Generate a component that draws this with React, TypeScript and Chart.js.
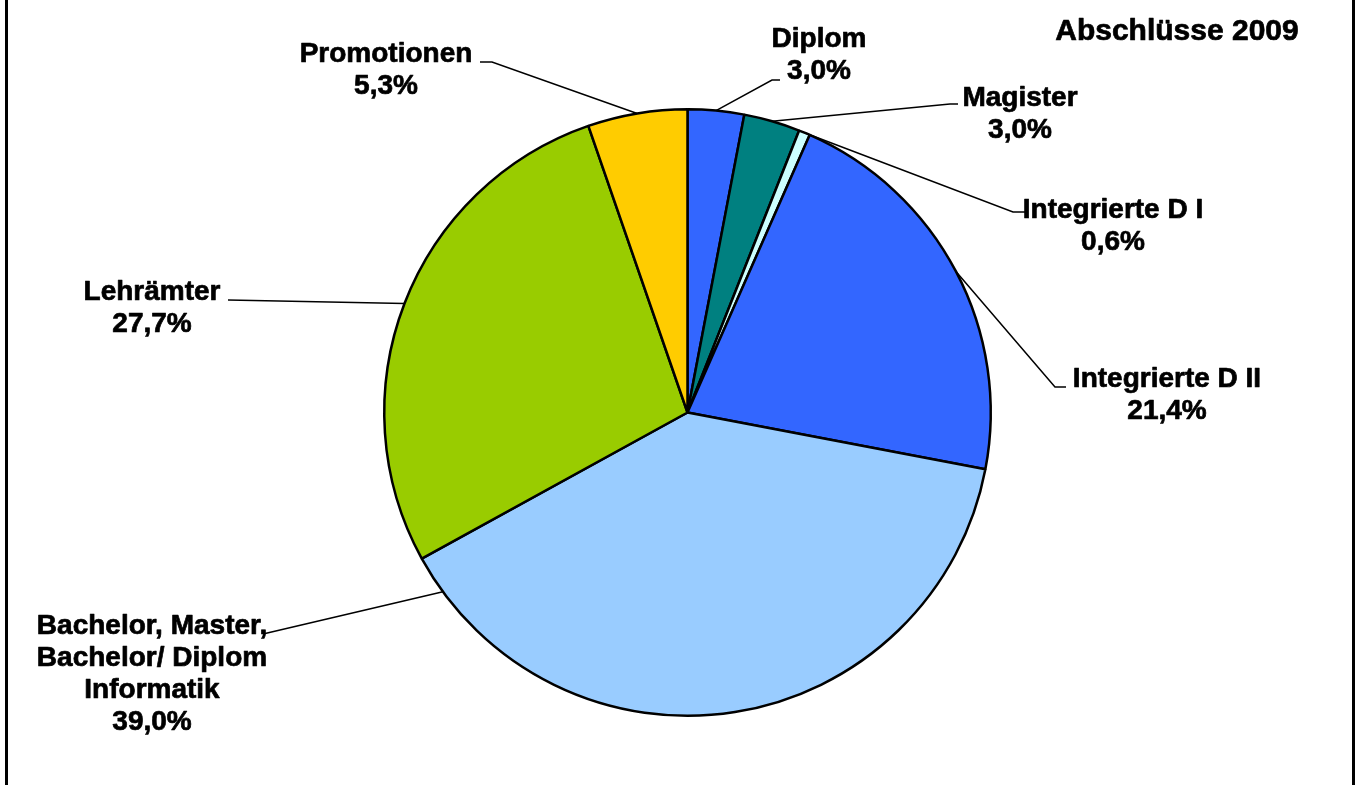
import React, { useEffect, useRef } from "react";
import { Chart, registerables } from "chart.js";

Chart.register(...registerables);

// ---- data ----
const categories = [
  "Diplom",
  "Magister",
  "Integrierte D I",
  "Integrierte D II",
  "Bachelor, Master, Bachelor/ Diplom Informatik",
  "Lehrämter",
  "Promotionen",
];
const shares = [3.0, 3.0, 0.6, 21.4, 39.0, 27.7, 5.3];
const labelLines = [
  ["Diplom"],
  ["Magister"],
  ["Integrierte D I"],
  ["Integrierte D II"],
  ["Bachelor, Master,", "Bachelor/ Diplom", "Informatik"],
  ["Lehrämter"],
  ["Promotionen"],
];
const title = "Abschlüsse 2009";

// ---- styles / layout ----
const colors = ["#3366FF", "#008080", "#CCFFFF", "#3366FF", "#99CCFF", "#99CC00", "#FFCC00"];
const FONT = "bold 28px Arial, 'Liberation Sans', sans-serif";
const TITLE_FONT = "bold 30px Arial, 'Liberation Sans', sans-serif";

// label layout: text centre x, first baseline, leader anchor fraction, leader path
const labelLayout = [
  { cx: 819, y0: 47, frac: 0.5, path: [[772, 80], [780, 80]] },
  { cx: 1020, y0: 106, frac: 0.5, path: [[950, 104], [958, 104]] },
  { cx: 1113, y0: 218, frac: 0.5, path: [[1013, 212], [1025, 212]] },
  { cx: 1167, y0: 387, frac: 0.5, path: [[1055, 387], [1066, 387]] },
  { cx: 152, y0: 634, frac: 0.947, path: [[263, 634]] },
  { cx: 152, y0: 300, frac: 0.5, path: [[228, 300]] },
  { cx: 386, y0: 62, frac: 0.5, path: [[492, 62], [480, 62]] },
];
const LINE_STEP = 32;

const fmt = (v: number) => v.toFixed(1).replace(".", ",") + "%";

const labelPlugin = {
  id: "pieLabels",
  afterDraw(chart: any) {
    const ctx = chart.ctx as CanvasRenderingContext2D;
    const meta = chart.getDatasetMeta(0);
    ctx.save();
    // frame
    ctx.fillStyle = "#000";
    ctx.fillRect(5, 0, 3, 785);
    ctx.fillRect(1352, 0, 3, 785);

    // leader lines
    ctx.strokeStyle = "#000";
    ctx.lineWidth = 1.5;
    meta.data.forEach((arc: any, i: number) => {
      const L = labelLayout[i];
      const a = arc.startAngle + L.frac * (arc.endAngle - arc.startAngle);
      const r = arc.outerRadius;
      ctx.beginPath();
      ctx.moveTo(arc.x + Math.cos(a) * r, arc.y + Math.sin(a) * r);
      L.path.forEach((p) => ctx.lineTo(p[0], p[1]));
      ctx.stroke();
    });

    // label text
    ctx.fillStyle = "#000";
    ctx.strokeStyle = "#000";
    ctx.lineWidth = 0.7;
    ctx.lineJoin = "round";
    ctx.font = FONT;
    ctx.textAlign = "center";
    ctx.textBaseline = "alphabetic";
    categories.forEach((_, i) => {
      const L = labelLayout[i];
      const lines = [...labelLines[i], fmt(shares[i])];
      lines.forEach((t, k) => {
        ctx.fillText(t, L.cx, L.y0 + k * LINE_STEP);
        ctx.strokeText(t, L.cx, L.y0 + k * LINE_STEP);
      });
    });

    // title
    ctx.font = TITLE_FONT;
    ctx.fillText(title, 1177, 40);
    ctx.strokeText(title, 1177, 40);
    ctx.restore();
  },
};

export default function App() {
  const ref = useRef<HTMLCanvasElement | null>(null);
  useEffect(() => {
    document.body.style.margin = "0";
    const canvas = ref.current!;
    const chart = new Chart(canvas, {
      type: "pie",
      data: {
        labels: categories,
        datasets: [
          {
            data: shares,
            backgroundColor: colors,
            borderColor: "#000",
            borderWidth: 2.5,
          },
        ],
      },
      options: {
        responsive: false,
        animation: false,
        devicePixelRatio: 1,
        layout: { padding: { left: 16, right: 0, top: 108, bottom: 68 } },
        plugins: { legend: { display: false }, tooltip: { enabled: false }, title: { display: false } },
      },
      plugins: [labelPlugin],
    });
    return () => chart.destroy();
  }, []);
  return (
    <canvas
      ref={ref}
      width={1359}
      height={785}
      style={{ display: "block", width: "1359px", height: "785px", background: "#fff" }}
    />
  );
}
